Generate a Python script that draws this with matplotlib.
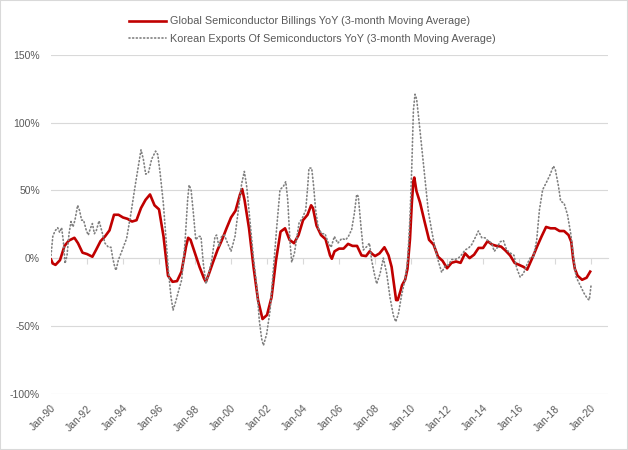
import matplotlib
matplotlib.use('Agg')
import matplotlib.pyplot as plt
from matplotlib.patches import Rectangle
from matplotlib.transforms import ScaledTranslation

# Global semiconductor billings YoY (3m MA)
billings_t = [1990.0, 1990.1, 1990.25, 1990.5, 1990.75, 1991.0, 1991.3, 1991.5, 1991.75, 1992.0,
              1992.3, 1992.5, 1992.75, 1993.0, 1993.25, 1993.5, 1993.75, 1994.0, 1994.25, 1994.5,
              1994.75, 1995.0, 1995.25, 1995.5, 1995.75, 1996.0, 1996.25, 1996.5, 1996.75, 1997.0,
              1997.25, 1997.5, 1997.62, 1997.75, 1998.0, 1998.25, 1998.5, 1998.6, 1998.75, 1999.0,
              1999.25, 1999.5, 1999.75, 2000.0, 2000.25, 2000.5, 2000.62, 2000.75, 2001.0, 2001.25,
              2001.5, 2001.75, 2002.0, 2002.25, 2002.5, 2002.75, 2003.0, 2003.25, 2003.5, 2003.75,
              2004.0, 2004.25, 2004.45, 2004.55, 2004.75, 2005.0, 2005.25, 2005.5, 2005.6, 2005.75,
              2006.0, 2006.25, 2006.5, 2006.75, 2007.0, 2007.25, 2007.5, 2007.7, 2007.85, 2008.0,
              2008.25, 2008.52, 2008.6, 2008.75, 2008.92, 2009.05, 2009.17, 2009.26, 2009.42, 2009.5,
              2009.67, 2009.8, 2009.94, 2010.04, 2010.13, 2010.18, 2010.3, 2010.5, 2010.75, 2011.0,
              2011.25, 2011.5, 2011.75, 2012.0, 2012.25, 2012.5, 2012.75, 2013.0, 2013.25, 2013.5,
              2013.75, 2014.0, 2014.25, 2014.5, 2014.75, 2015.0, 2015.25, 2015.5, 2015.75, 2016.0,
              2016.25, 2016.45, 2016.75, 2017.0, 2017.25, 2017.5, 2017.75, 2018.0, 2018.25, 2018.5,
              2018.75, 2018.9, 2019.0, 2019.1, 2019.25, 2019.5, 2019.75, 2019.95]
billings = [-1, -4, -5, -1.5, 9, 13, 15, 11, 4, 3,
            1, 6, 12.5, 16, 20.5, 32, 32, 30, 29, 27,
            28, 37, 43, 47, 39, 36, 16, -13, -17.5, -17,
            -10, 8.5, 15, 13.5, 3.5, -6.5, -15, -17.5, -12.5, -3,
            6, 13.5, 22, 30, 35, 47, 51, 43, 22, -6.5,
            -31, -45, -42, -29, -1.5, 19.5, 22, 13.5, 11, 17,
            28, 32, 39, 37, 24, 17, 14, 2, -0.5, 5,
            7, 7, 10.5, 9, 9, 2, 1.5, 5, 3, 1.5,
            3.5, 8, 6, 2, -6.5, -19, -31, -31, -24, -20,
            -16, -8, 14, 40, 57, 59.5, 49.5, 41, 27, 13.5,
            10, 1, -2, -7.5, -3.5, -2.5, -3.5, 3.5, 0, 2.5,
            7.5, 7.5, 12.5, 10, 9, 8.5, 5.5, 2, -3.5, -5,
            -6.5, -8.5, 0.5, 8.5, 16, 23, 22, 22, 20, 20,
            17, 12, 0, -8, -13, -16, -14.5, -10]

# Korean exports of semiconductors YoY (3m MA)
exports_t = [1990.0, 1990.1, 1990.22, 1990.37, 1990.48, 1990.59, 1990.69, 1990.78, 1990.89, 1991.0,
             1991.11, 1991.22, 1991.33, 1991.48, 1991.59, 1991.7, 1991.81, 1991.96, 1992.07, 1992.19,
             1992.3, 1992.41, 1992.52, 1992.67, 1992.81, 1993.0, 1993.19, 1993.33, 1993.43, 1993.54,
             1993.61, 1993.74, 1993.96, 1994.2, 1994.44, 1994.67, 1994.85, 1995.0, 1995.13, 1995.26,
             1995.41, 1995.59, 1995.81, 1995.93, 1996.06, 1996.24, 1996.37, 1996.52, 1996.67, 1996.78,
             1996.93, 1997.07, 1997.26, 1997.44, 1997.59, 1997.67, 1997.78, 1997.91, 1998.04, 1998.19,
             1998.33, 1998.46, 1998.61, 1998.74, 1998.93, 1999.11, 1999.2, 1999.33, 1999.48, 1999.63,
             1999.81, 2000.0, 2000.22, 2000.41, 2000.59, 2000.74, 2000.87, 2001.06, 2001.24, 2001.43,
             2001.57, 2001.7, 2001.8, 2001.98, 2002.17, 2002.35, 2002.54, 2002.72, 2002.91, 2003.04,
             2003.15, 2003.28, 2003.37, 2003.52, 2003.65, 2003.78, 2003.96, 2004.15, 2004.26, 2004.33,
             2004.48, 2004.59, 2004.7, 2004.85, 2005.04, 2005.22, 2005.41, 2005.56, 2005.74, 2005.93,
             2006.15, 2006.37, 2006.52, 2006.7, 2006.85, 2006.98, 2007.07, 2007.22, 2007.35, 2007.54,
             2007.69, 2007.81, 2007.96, 2008.09, 2008.28, 2008.46, 2008.65, 2008.83, 2009.02, 2009.15,
             2009.3, 2009.48, 2009.67, 2009.81, 2009.94, 2010.04, 2010.13, 2010.22, 2010.31, 2010.44,
             2010.59, 2010.78, 2010.96, 2011.15, 2011.33, 2011.52, 2011.7, 2011.89, 2012.07, 2012.26,
             2012.44, 2012.63, 2012.81, 2013.0, 2013.2, 2013.37, 2013.56, 2013.74, 2013.93, 2014.11,
             2014.3, 2014.48, 2014.62, 2014.76, 2014.94, 2015.13, 2015.31, 2015.54, 2015.72, 2015.87,
             2016.06, 2016.24, 2016.43, 2016.61, 2016.8, 2016.98, 2017.13, 2017.31, 2017.54, 2017.72,
             2017.91, 2018.02, 2018.19, 2018.31, 2018.5, 2018.69, 2018.87, 2019.02, 2019.17, 2019.3,
             2019.43, 2019.61, 2019.8, 2019.9, 2020.0]
exports = [2, 16, 20, 22.5, 19, 22.5, 12, -4, 2, 18,
           27, 23, 28, 39, 35, 28, 28, 20.5, 17, 22,
           25.5, 18, 20.5, 27.5, 20.5, 11, 8, 8, 0, -6.5,
           -9, -1.5, 6, 14.5, 33, 53, 68, 80, 73, 62,
           63, 73, 79, 76.5, 63, 40.5, 18, -9, -29, -38.5,
           -32, -25, -16, 11, 43, 54, 50.5, 33, 13.5, 16,
           16, -4, -19, -12.5, -1.5, 16, 17, 8.5, 16, 17,
           11, 5, 16, 36, 55, 64, 53, 26, 1, -21,
           -46, -59.5, -64.5, -56, -38.5, -9, 23, 50.5, 53, 56.5,
           43, 11, -3, 3.5, 14.5, 26, 29.5, 35.5, 53, 66.5,
           66.5, 53, 35.5, 22, 18, 18, 11, 8, 16, 11,
           14.5, 13.5, 16, 21, 33, 47, 45.5, 23, 6, 8.5,
           11, -1.5, -11.5, -19, -11.5, 0, -11.5, -29, -42.5, -47,
           -41, -27, -15.5, -2, 30, 67, 109, 121, 117.5, 101.5,
           82, 57, 34.5, 20, 7.5, -2.5, -10.5, -6, -5, -1,
           -1, 0, 2.5, 6, 7.5, 10, 15, 20, 15, 15,
           12.5, 11, 5, 7, 12, 13, 6, 3.5, 2, -7.5,
           -14, -11.5, -5, 0, 1, 13.5, 35.5, 50.5, 56.5, 61.5,
           68, 65, 53, 42, 40.5, 32, 18, 1, -14, -17.5,
           -21, -26, -30, -31, -20]

tick_years = list(range(1990, 2021, 2))
tick_labels = ['Jan-%02d' % (y % 100) for y in tick_years]

fig = plt.figure(figsize=(6.28, 4.5), dpi=100)
ax = fig.add_axes([51 / 628, 1 - 393.5 / 450, 557 / 628, 338.5 / 450])

ax.plot(billings_t, billings, color='#c00000', lw=1.9,
        label='Global Semiconductor Billings YoY (3-month Moving Average)')
ax.plot(exports_t, exports, color='#808080', lw=1.2, linestyle=(0, (0.6, 1.6)),
        dash_capstyle='round',
        label='Korean Exports Of Semiconductors YoY (3-month Moving Average)')

ax.set_xlim(1990, 2020.94)
ax.set_ylim(-100, 150)
ax.set_yticks([-100, -50, 0, 50, 100, 150])
ax.set_yticklabels(['%d%%' % v for v in [-100, -50, 0, 50, 100, 150]])
ax.grid(axis='y', color='#d9d9d9', lw=0.8)
ax.set_axisbelow(True)
for s in ax.spines.values():
    s.set_visible(False)

ax.set_xticks(tick_years)
ax.set_xticklabels(tick_labels, rotation=45, ha='right', va='top')
ax.tick_params(axis='x', length=0, pad=7, labelsize=7.5, labelcolor='#595959')
ax.tick_params(axis='y', length=0, pad=8, labelsize=7.5, labelcolor='#595959')
shift = ScaledTranslation(5 / 72, 0, fig.dpi_scale_trans)
for t in ax.get_xticklabels():
    t.set_transform(t.get_transform() + shift)
for t in ax.get_xticklabels() + ax.get_yticklabels():
    t.set_fontfamily('Liberation Sans')

# category axis line sits at 0% with small tick marks
sec = ax.secondary_xaxis(0.4)
sec.set_xticks(tick_years)
sec.tick_params(axis='x', length=4, color='#d9d9d9', labelbottom=False)
sec.spines['bottom'].set_color('#d9d9d9')

fig.legend(loc='upper center', bbox_to_anchor=(0.497, 0.985), ncol=1, frameon=False,
           prop={'family': 'Liberation Sans', 'size': 7.8}, labelcolor='#595959',
           handlelength=3.4, handletextpad=0.4, labelspacing=0.7)

fig.patches.append(Rectangle((0, 0), 1, 1, transform=fig.transFigure, fill=False,
                             edgecolor='#d9d9d9', lw=1.5))

plt.savefig('out.png', dpi=100)
